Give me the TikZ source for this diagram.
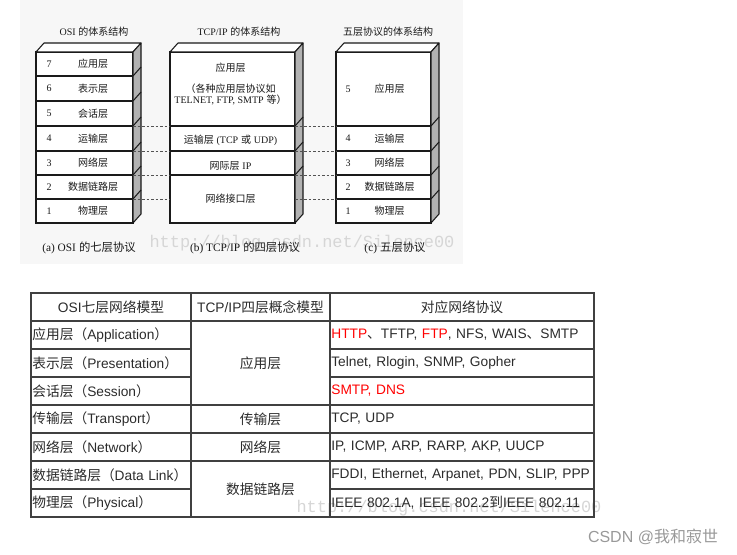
\documentclass[tikz,border=0pt]{standalone}
\usepackage{fontspec}
\setmainfont{Liberation Sans}
\newfontfamily\cn{Noto Sans CJK SC}
\newfontfamily\tms{Liberation Serif}
\newfontfamily\wmk{Liberation Mono}
\usetikzlibrary{positioning,calc}
\definecolor{ink}{HTML}{1A1A1A}
\definecolor{sidegray}{HTML}{B2B2B2}
\definecolor{paper}{HTML}{F7F7F7}
\definecolor{tabline}{HTML}{404040}
\definecolor{tabtext}{HTML}{2B2B2B}
\definecolor{hot}{HTML}{FF0000}
\definecolor{mark}{HTML}{D6D6D6}
\definecolor{sign}{HTML}{999999}
\tikzset{
  layer/.style={draw=ink, line width=0.8pt, fill=white, outer sep=0pt, inner sep=0pt, anchor=north west},
  side/.style={fill=sidegray, draw=ink, line width=0.8pt, line join=round},
  roof/.style={fill=white, draw=ink, line width=0.8pt, line join=round},
  lab/.style={font=\fontsize{7.5}{8.6}\selectfont, text=ink, inner sep=0pt, align=center},
  num/.style={lab, font=\tms\fontsize{7.5}{9}\selectfont},
  caption/.style={font=\fontsize{8.5}{10}\selectfont, text=ink, inner sep=0pt},
  link/.style={draw=ink!75, line width=0.6pt, dash pattern=on 2pt off 1.4pt},
  cell/.style={draw=tabline, line width=1.1pt, outer sep=0pt, inner xsep=1pt, inner ysep=0pt, anchor=north west, minimum height=21pt, font=\fontsize{10.3}{12}\selectfont, text=tabtext},
  colone/.style={cell, text width=118pt, align=left},
  coltwo/.style={cell, text width=102.25pt, align=center},
  colthree/.style={cell, text width=196pt, align=left},
  wm/.style={font=\wmk\fontsize{12.7}{14}\selectfont, text=mark, inner sep=0pt},
  sig/.style={font=\fontsize{12}{14}\selectfont, text=sign, inner sep=0pt}
}
\begin{document}
\begin{tikzpicture}[x=0.75pt, y=-0.75pt]
\useasboundingbox (0,0) rectangle (737,555);
\fill[paper] (20,0) rectangle (463,264);
\node[wm] (mark1) at (302,243) {http://blog.csdn.net/Silence00};

\foreach \t/\b/\n/\nm in {52/76/7/应用层,76/101/6/表示层,101/126/5/会话层,126/151/4/运输层,151/175/3/网络层,175/199/2/数据链路层,199/223/1/物理层}{
  \node[layer, minimum width=72.75pt, minimum height={(\b-\t)*0.75pt}] (osi\n) at (36,\t) {};
  \node[num] (osin\n) at ($(osi\n.west)+(13,0)$) {\n};
  \node[lab] (osil\n) at ($(osi\n.center)+(8.5,0)$) {\cn\nm};
}
\draw[roof] (osi7.north west) -- ++(8,-9) -- ($(osi7.north east)+(8,-9)$) -- (osi7.north east) -- cycle;
\draw[side] (osi7.north east) -- ++(8,-9) -- ($(osi1.south east)+(8,-9)$) -- (osi1.south east) -- cycle;
\foreach \n in {7,...,2}{\draw[line width=0.8pt, draw=ink] (osi\n.south east) -- ++(8,-9);}

\node[layer, minimum width=93.75pt, minimum height=55.5pt] (tapp) at (170,52) {};
\node[layer, minimum width=93.75pt, minimum height=18.75pt] (ttra) at (170,126) {};
\node[layer, minimum width=93.75pt, minimum height=18pt] (tnet) at (170,151) {};
\node[layer, minimum width=93.75pt, minimum height=36pt] (tlink) at (170,175) {};
\draw[roof] (tapp.north west) -- ++(8,-9) -- ($(tapp.north east)+(8,-9)$) -- (tapp.north east) -- cycle;
\draw[side] (tapp.north east) -- ++(8,-9) -- ($(tlink.south east)+(8,-9)$) -- (tlink.south east) -- cycle;
\foreach \n in {tapp,ttra,tnet}{\draw[line width=0.8pt, draw=ink] (\n.south east) -- ++(8,-9);}

\node[layer, minimum width=71.25pt, minimum height=55.5pt] (fiv5) at (336,52) {};
\node[layer, minimum width=71.25pt, minimum height=18.75pt] (fiv4) at (336,126) {};
\node[layer, minimum width=71.25pt, minimum height=18pt] (fiv3) at (336,151) {};
\node[layer, minimum width=71.25pt, minimum height=18pt] (fiv2) at (336,175) {};
\node[layer, minimum width=71.25pt, minimum height=18pt] (fiv1) at (336,199) {};
\draw[roof] (fiv5.north west) -- ++(8,-9) -- ($(fiv5.north east)+(8,-9)$) -- (fiv5.north east) -- cycle;
\draw[side] (fiv5.north east) -- ++(8,-9) -- ($(fiv1.south east)+(8,-9)$) -- (fiv1.south east) -- cycle;
\foreach \n in {5,...,2}{\draw[line width=0.8pt, draw=ink] (fiv\n.south east) -- ++(8,-9);}
\foreach \n/\nm in {5/应用层,4/运输层,3/网络层,2/数据链路层,1/物理层}{
  \node[num] (fivn\n) at ($(fiv\n.west)+(12,0)$) {\n};
  \node[lab] (fivl\n) at ($(fiv\n.center)+(6,0)$) {\cn\nm};
}

\draw[link] (osi5.south east) -- (tapp.south west);
\draw[link] (tapp.south east) -- (fiv5.south west);
\draw[link] (osi4.south east) -- (ttra.south west);
\draw[link] (ttra.south east) -- (fiv4.south west);
\draw[link] (osi3.south east) -- (tnet.south west);
\draw[link] (tnet.south east) -- (fiv3.south west);
\draw[link] (osi2.south east) -- (tlink.west);
\draw[link] (tlink.east) -- (fiv2.south west);

\node[lab] (tappl) at ($(tapp.north)+(-2,16)$) {\cn 应用层};
\node[lab] (tnote) at ($(tapp.center)+(-2,5.5)$) {{\cn （各种应用层协议如}\\{\tms TELNET, FTP, SMTP} {\cn 等）}};
\node[lab] (ttral) at ($(ttra.center)+(-2,1.5)$) {{\cn 运输层} {\tms (TCP} {\cn 或} {\tms UDP)}};
\node[lab] (tnetl) at ($(tnet.center)+(-2,3)$) {{\cn 网际层} {\tms IP}};
\node[lab] (tlinkl) at ($(tlink.center)+(-2,0)$) {\cn 网络接口层};

\node[lab] (osit) at (94,32) {{\tms OSI} {\cn 的体系结构}};
\node[lab] (tcpt) at (239,32) {{\tms TCP/IP} {\cn 的体系结构}};
\node[lab] (fivt) at (388,32) {\cn 五层协议的体系结构};
\node[caption] (osic) at (89,248) {{\tms (a) OSI} {\cn 的七层协议}};
\node[caption] (tcpc) at (245,248) {{\tms (b) TCP/IP} {\cn 的四层协议}};
\node[caption] (fivc) at (395,248) {{\tms (c)} {\cn 五层协议}};

\node[wm] (mark2) at (449,508) {http://blog.csdn.net/Silence00};

\node[colone, align=center] (h1) at (31,293) {OSI{\cn 七层网络模型}};
\node[coltwo] (h2) at (191,293) {TCP/IP{\cn 四层概念模型}};
\node[colthree, align=center] (h3) at (330,293) {\cn 对应网络协议};

\node[colone] (a1) at (31,321) {{\cn 应用层（}Application{\cn ）}};
\node[colone] (a2) at (31,349) {{\cn 表示层（}Presentation{\cn ）}};
\node[colone] (a3) at (31,377) {{\cn 会话层（}Session{\cn ）}};
\node[colone] (a4) at (31,405) {{\cn 传输层（}Transport{\cn ）}};
\node[colone] (a5) at (31,433) {{\cn 网络层（}Network{\cn ）}};
\node[colone] (a6) at (31,461) {{\cn 数据链路层（}Data Link{\cn ）}};
\node[colone] (a7) at (31,489) {{\cn 物理层（}Physical{\cn ）}};

\node[coltwo, minimum height=63pt] (b1) at (191,321) {\cn 应用层};
\node[coltwo] (b4) at (191,405) {\cn 传输层};
\node[coltwo] (b5) at (191,433) {\cn 网络层};
\node[coltwo, minimum height=42pt] (b6) at (191,461) {\cn 数据链路层};

\node[colthree] (c1) at (330,321) {\textcolor{hot}{HTTP}{\cn 、}TFTP, \textcolor{hot}{FTP}, NFS, WAIS{\cn 、}SMTP};
\node[colthree] (c2) at (330,349) {Telnet, Rlogin, SNMP, Gopher};
\node[colthree] (c3) at (330,377) {\textcolor{hot}{SMTP, DNS}};
\node[colthree] (c4) at (330,405) {TCP, UDP};
\node[colthree] (c5) at (330,433) {IP, ICMP, ARP, RARP, AKP, UUCP};
\node[colthree] (c6) at (330,461) {FDDI, Ethernet, Arpanet, PDN, SLIP, PPP};
\node[colthree] (c7) at (330,489) {IEEE 802.1A, IEEE 802.2{\cn 到}IEEE 802.11};

\node[sig] (sign) at (653,537) {CSDN @{\cn 我和寂世}};
\end{tikzpicture}
\end{document}
